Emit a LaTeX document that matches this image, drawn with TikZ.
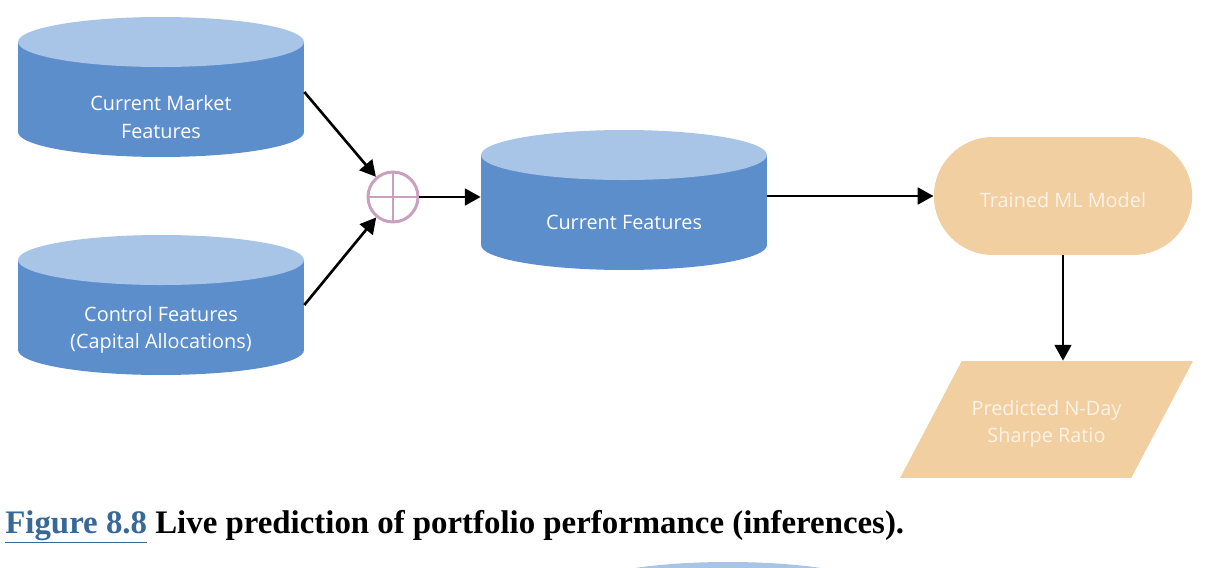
\documentclass[tikz,border=0pt]{standalone}
\usepackage{fontspec}
\setmainfont{Open Sans}
\newfontfamily\capfont{Liberation Serif}
\usepackage{xcolor}
\usepackage{tikz}
\usetikzlibrary{arrows.meta, positioning, calc, shapes.geometric, shapes.misc}
\definecolor{StoreBlue}{RGB}{92, 142, 203}
\definecolor{StoreTop}{RGB}{168, 196, 231}
\definecolor{ModelSand}{RGB}{241, 207, 160}
\definecolor{SandText}{RGB}{252, 242, 230}
\definecolor{SumPink}{RGB}{203, 160, 190}
\definecolor{LinkBlue}{RGB}{55, 104, 152}

\tikzset{
  store/.style={rectangle, minimum width=5.72cm, minimum height=2.8cm, inner sep=0pt,
    path picture={
      \fill[StoreBlue] ([yshift=-0.5cm]path picture bounding box.north west)
        -- ([yshift=0.5cm]path picture bounding box.south west)
        arc[start angle=180, end angle=360, x radius=2.86cm, y radius=0.5cm]
        -- ([yshift=-0.5cm]path picture bounding box.north east) -- cycle;
      \fill[StoreTop] ([yshift=-0.5cm]path picture bounding box.north)
        ellipse [x radius=2.86cm, y radius=0.5cm];
    }},
  storetext/.style={text=white, font=\fontsize{11.3}{15.5}\selectfont, align=center},
  sandtext/.style={text=SandText, font=\fontsize{11.3}{15.5}\selectfont, align=center},
  flow/.style={-{Triangle[length=9pt, width=9.5pt]}, line width=1.5pt, black},
}

\begin{document}
\begin{tikzpicture}[x=0.02cm, y=-0.02cm]
  \useasboundingbox (0,0) rectangle (1214,568);
  \clip (0,0) rectangle (1214,568);

  % feature stores
  \node[store, label={[storetext, yshift=-0.6cm]center:{Current Market\\Features}}] (mkt) at (161,87) {};
  \node[store, label={[storetext, yshift=-0.5cm]center:{Control Features\\(Capital Allocations)}}] (ctl) at (161,305) {};
  \node[store, label={[storetext, yshift=-0.44cm]center:{Current Features}}] (cur) at (624,200) {};

  % combine
  \node[circle, draw=SumPink, line width=1.7pt, minimum size=1cm, inner sep=0pt] (sum) at (393,197) {};
  \draw[SumPink, line width=1.7pt] (sum.north) -- (sum.south) (sum.west) -- (sum.east);

  % model and output
  \node[rounded rectangle, fill=ModelSand, minimum width=5.4cm, minimum height=2.36cm,
        label={[sandtext, yshift=-0.08cm]center:{Trained ML Model}}] (model) at (1063,196) {};
  \node[trapezium, trapezium left angle=70, trapezium right angle=110, trapezium stretches=true,
        fill=ModelSand, minimum width=5.86cm, minimum height=2.34cm,
        label={[sandtext, yshift=-0.08cm]center:{Predicted N-Day\\Sharpe Ratio}}] (out) at (1046.5,419.5) {};

  \draw[flow] ([yshift=-0.1cm]mkt.east) -- (sum);
  \draw[flow] (ctl.east) -- (sum);
  \draw[flow] (sum.east) -- (sum -| cur.west);
  \draw[flow] (cur.east |- model.west) -- (model.west);
  \draw[flow] (model.south) -- (model.south |- out.north);

  % caption
  \node[anchor=base west, inner sep=0pt, font=\capfont\bfseries\fontsize{18.7}{22}\selectfont] (cap) at (5,533)
    {\textcolor{LinkBlue}{\underline{Figure 8.8}} Live prediction of portfolio performance (inferences).};

  % next figure peeking in
  \fill[StoreTop] (728,587) ellipse [x radius=2.86cm, y radius=0.5cm];
\end{tikzpicture}
\end{document}
